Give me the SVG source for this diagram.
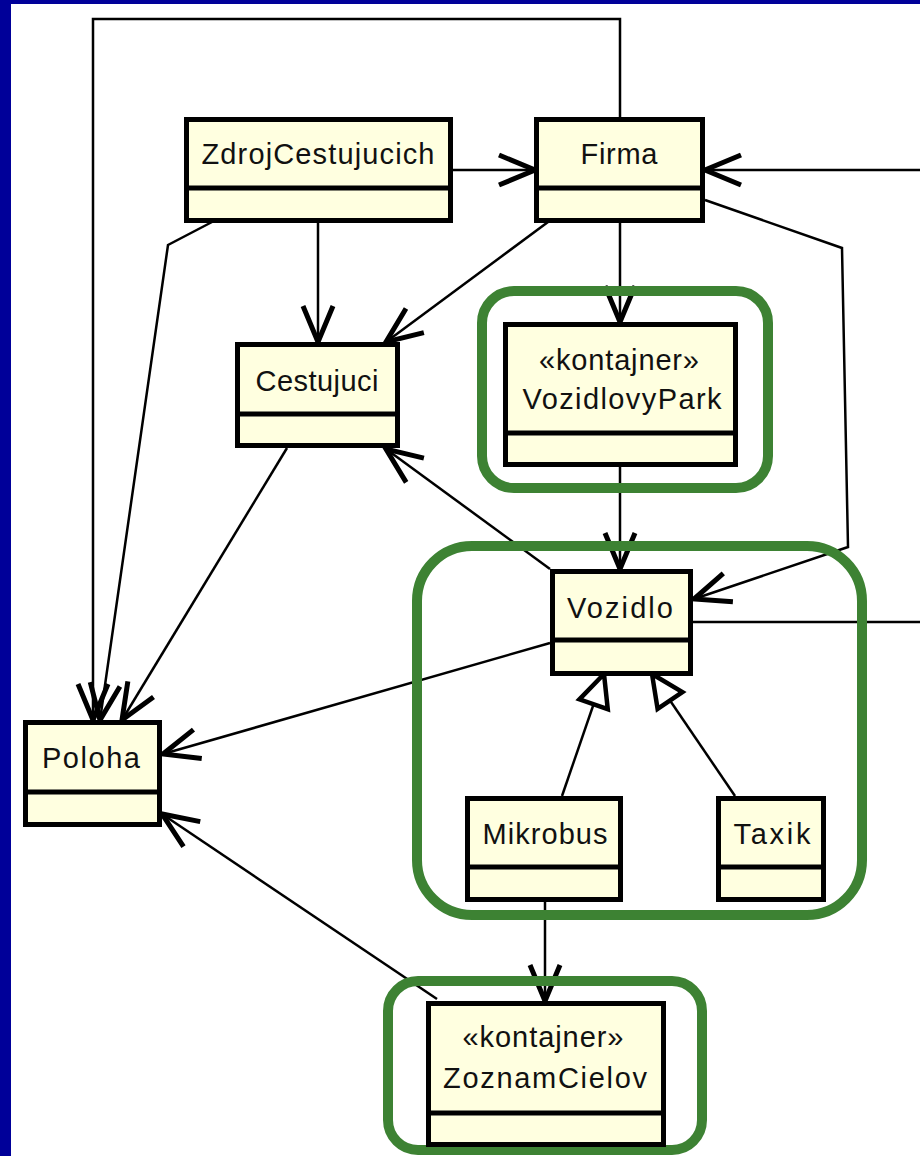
<svg xmlns="http://www.w3.org/2000/svg" width="920" height="1156" viewBox="0 0 920 1156">
<style>
.box{fill:#ffffe0;stroke:#000;stroke-width:5}
.div{stroke:#000;stroke-width:5}
.t{font-family:"Liberation Sans",Arial,sans-serif;font-size:29px;fill:#111;text-anchor:middle}
.c{fill:none;stroke:#000;stroke-width:2.5}
.grp{fill:none;stroke:#3d8233;stroke-width:10}
</style>
<defs>
<marker id="open" markerUnits="userSpaceOnUse" orient="auto" refX="0" refY="0" markerWidth="60" markerHeight="60" overflow="visible">
<path d="M-36,-15 L0,0 L-36,15" fill="none" stroke="#000" stroke-width="5"/>
</marker>
<marker id="gen" markerUnits="userSpaceOnUse" orient="auto" refX="0" refY="0" markerWidth="60" markerHeight="60" overflow="visible">
<path d="M0,0 L-32,-15 L-32,15 Z" fill="#fff" stroke="#000" stroke-width="4.5"/>
</marker>
</defs>
<rect x="0" y="0" width="920" height="1156" fill="#fff"/>
<rect x="0" y="0" width="11" height="1156" fill="#000099"/>
<rect x="0" y="0" width="920" height="4" fill="#000099"/>
<g id="connectors">
<path class="c" d="M453,170 L535,170" marker-end="url(#open)"/>
<path class="c" d="M920,170 L705,170" marker-end="url(#open)"/>
<path class="c" d="M620,117 L620,19 L93,19 L93,720" marker-end="url(#open)"/>
<path class="c" d="M318,222 L318,342" marker-end="url(#open)"/>
<path class="c" d="M212,222 L168,245 L100,720" marker-end="url(#open)"/>
<path class="c" d="M548,222 L386,342" marker-end="url(#open)"/>
<path class="c" d="M620,222 L620,322" marker-end="url(#open)"/>
<path class="c" d="M705,200 L842,248 L848,547 L694,599" marker-end="url(#open)"/>
<path class="c" d="M620,467 L620,569" marker-end="url(#open)"/>
<path class="c" d="M693,622 L920,622"/>
<path class="c" d="M550,569 L386,449" marker-end="url(#open)"/>
<path class="c" d="M550,643 L163,754" marker-end="url(#open)"/>
<path class="c" d="M287,448 L122,720" marker-end="url(#open)"/>
<path class="c" d="M437,999 L162,814" marker-end="url(#open)"/>
<path class="c" d="M545,902 L545,1001" marker-end="url(#open)"/>
<path class="c" d="M562,796 L604,674" marker-end="url(#gen)"/>
<path class="c" d="M735,796 L652,674" marker-end="url(#gen)"/>
</g>
<g id="groups">
<rect class="grp" x="482" y="291" width="286" height="197" rx="32"/>
<rect class="grp" x="417" y="546" width="445" height="369" rx="55"/>
<rect class="grp" x="388" y="981" width="314" height="169" rx="30"/>
</g>
<g id="ZdrojCestujucich">
<rect class="box" x="186.5" y="119.5" width="264" height="101"/>
<line class="div" x1="186.5" y1="188" x2="450.5" y2="188"/>
<text class="t" x="318" y="164" textLength="233" lengthAdjust="spacing">ZdrojCestujucich</text>
</g>
<g id="Firma">
<rect class="box" x="536.5" y="119.5" width="166" height="101"/>
<line class="div" x1="536.5" y1="188" x2="702.5" y2="188"/>
<text class="t" x="619" y="164" textLength="77" lengthAdjust="spacing">Firma</text>
</g>
<g id="Cestujuci">
<rect class="box" x="237.5" y="344.5" width="160" height="101"/>
<line class="div" x1="237.5" y1="414" x2="397.5" y2="414"/>
<text class="t" x="317" y="391" textLength="123" lengthAdjust="spacing">Cestujuci</text>
</g>
<g id="VozidlovyPark">
<rect class="box" x="505.5" y="324.5" width="230" height="140"/>
<line class="div" x1="505.5" y1="433" x2="735.5" y2="433"/>
<text class="t" x="619" y="370" textLength="160" lengthAdjust="spacing">«kontajner»</text>
<text class="t" x="622" y="409" textLength="199" lengthAdjust="spacing">VozidlovyPark</text>
</g>
<g id="Vozidlo">
<rect class="box" x="552.5" y="571.5" width="138" height="102"/>
<line class="div" x1="552.5" y1="640" x2="690.5" y2="640"/>
<text class="t" x="620" y="618" textLength="106" lengthAdjust="spacing">Vozidlo</text>
</g>
<g id="Poloha">
<rect class="box" x="25.5" y="722.5" width="134" height="102"/>
<line class="div" x1="25.5" y1="792" x2="159.5" y2="792"/>
<text class="t" x="91" y="768" textLength="98" lengthAdjust="spacing">Poloha</text>
</g>
<g id="Mikrobus">
<rect class="box" x="467.5" y="798.5" width="153" height="101"/>
<line class="div" x1="467.5" y1="867" x2="620.5" y2="867"/>
<text class="t" x="545" y="844" textLength="125" lengthAdjust="spacing">Mikrobus</text>
</g>
<g id="Taxik">
<rect class="box" x="718.5" y="798.5" width="105" height="101"/>
<line class="div" x1="718.5" y1="867" x2="823.5" y2="867"/>
<text class="t" x="772" y="844" textLength="77" lengthAdjust="spacing">Taxik</text>
</g>
<g id="ZoznamCielov">
<rect class="box" x="428.5" y="1003.5" width="235" height="141"/>
<line class="div" x1="428.5" y1="1113" x2="663.5" y2="1113"/>
<text class="t" x="543" y="1047" textLength="161" lengthAdjust="spacing">«kontajner»</text>
<text class="t" x="545" y="1088" textLength="204" lengthAdjust="spacing">ZoznamCielov</text>
</g>
</svg>
